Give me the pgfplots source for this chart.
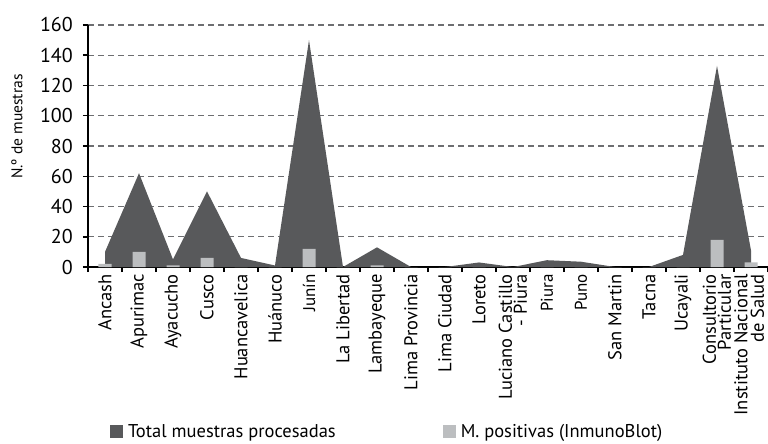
\documentclass[border=0pt]{standalone}
\usepackage{fontspec}
\setmainfont{PT Sans}
\usepackage{pgfplots}
\pgfplotsset{compat=1.18}
\definecolor{areagray}{HTML}{58595B}
\definecolor{bargray}{HTML}{BCBEC0}
\definecolor{gridgray}{HTML}{6D6E71}
\newcommand{\sm}[1]{{\fontsize{17}{17}\selectfont #1}}
\pgfplotsset{sq legend/.style={legend image code/.code={\fill[##1] (0pt,-6.5pt) rectangle (13pt,6.5pt);}}}
\begin{document}
\begin{tikzpicture}
\begin{axis}[
  scale only axis, width=680pt, height=242pt,
  xmin=-0.5, xmax=19.5, ymin=0, ymax=160,
  axis x line*=bottom, axis y line*=left,
  x axis line style={black, line width=1.4pt},
  y axis line style={black, line width=2pt},
  ytick={0,20,...,160},
  ymajorgrids, grid style={gridgray, line width=1.1pt, dash pattern=on 6pt off 4pt},
  tick align=outside,
  major tick length=5pt, minor tick length=5pt,
  y tick style={black, line width=1.5pt},
  yticklabel style={font=\fontsize{20}{22}\selectfont, inner sep=0pt, xshift=-10pt},
  /pgf/number format/assume math mode=true,
  xtick={0,...,19},
  major x tick style={draw=none},
  minor xtick={-0.5,0.5,...,19.5},
  minor x tick style={black, line width=1.4pt},
  xticklabels={Ancash, Apurimac, Ayacucho, Cusco, Huancavelica, Huánuco,
    \sm{Junín}, La Libertad, Lambayeque, Lima Provincia,
    Lima Ciudad, Loreto, {Luciano Castillo\\- Piura}, \sm{Piura},
    \sm{Puno}, San Martin, Tacna, Ucayali,
    {Consultorio\\Particular},
    {\raisebox{4pt}{\shortstack[r]{Instituto Nacional\\de Salud}}}},
  xticklabel style={rotate=90, anchor=east, align=right, inner sep=2pt,
    font=\fontsize{18.5}{15}\selectfont},
  ylabel={N.º de muestras},
  ylabel style={at={(rel axis cs:0,0.58)}, anchor=center, yshift=71pt,
    font=\fontsize{15.5}{16}\selectfont},
  legend columns=2,
  legend style={at={(0.44,-0.68)}, anchor=center, draw=none, fill=none,
    font=\fontsize{18.5}{20}\selectfont,
    /tikz/every odd column/.append style={column sep=3pt},
    /tikz/every even column/.append style={column sep=105pt}},
]
\addplot[fill=areagray, draw=none, sq legend] coordinates {
  (0,10) (1,62) (2,5) (3,50) (4,6) (5,1) (6,150) (7,0) (8,13) (9,0)
  (10,0) (11,3) (12,0) (13,4.5) (14,3.5) (15,0) (16,0) (17,8) (18,133) (19,11)
} \closedcycle;
\addlegendentry{Total muestras procesadas}
\addplot[ybar, bar width=13pt, bar shift=0pt, fill=bargray, draw=none, sq legend] coordinates {
  (0,2) (1,10) (2,1) (3,6) (4,0) (5,0) (6,12) (7,0) (8,1) (9,0)
  (10,0) (11,0) (12,0) (13,0) (14,0) (15,0) (16,0) (17,0) (18,18) (19,3)
};
\addlegendentry{M. positivas (InmunoBlot)}
\coordinate (O) at (rel axis cs:0,0);
\end{axis}
\pgfresetboundingbox
\path (O) ++(-88pt,-177pt) rectangle ++(768pt,444pt);
\end{tikzpicture}
\end{document}
